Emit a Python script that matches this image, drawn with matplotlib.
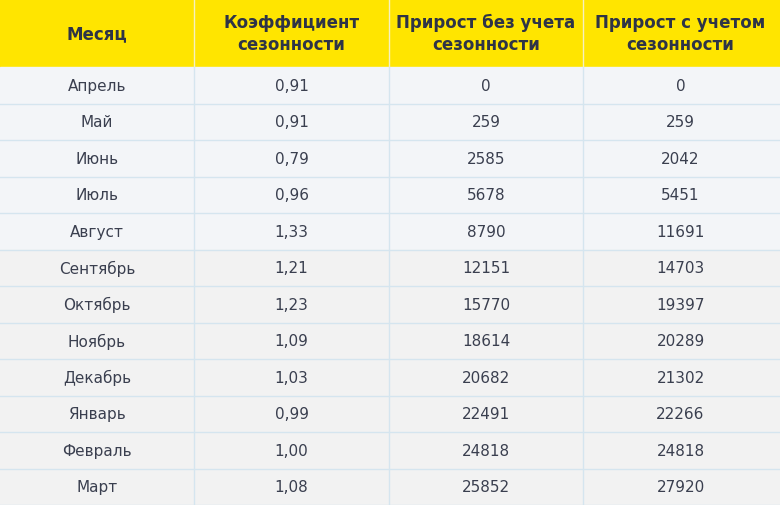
import matplotlib.pyplot as plt
from matplotlib.patches import Rectangle

headers = ["Месяц", "Коэффициент\nсезонности", "Прирост без учета\nсезонности", "Прирост с учетом\nсезонности"]
months = ["Апрель", "Май", "Июнь", "Июль", "Август", "Сентябрь", "Октябрь", "Ноябрь",
          "Декабрь", "Январь", "Февраль", "Март"]
coef = ["0,91", "0,91", "0,79", "0,96", "1,33", "1,21", "1,23", "1,09", "1,03", "0,99", "1,00", "1,08"]
raw_growth = [0, 259, 2585, 5678, 8790, 12151, 15770, 18614, 20682, 22491, 24818, 25852]
adj_growth = [0, 259, 2042, 5451, 11691, 14703, 19397, 20289, 21302, 22266, 24818, 27920]

W, H = 780, 506
fig = plt.figure(figsize=(W / 100, H / 100), dpi=100)
ax = fig.add_axes([0, 0, 1, 1])
ax.set_xlim(0, W)
ax.set_ylim(H, 0)
ax.axis("off")

col_x = [0, 194, 389, 583, 778]
head_h = 68
row_h = (H - head_h) / len(months)
text_col = "#3a3f4f"
line_col = "#d5e5ef"

ax.add_patch(Rectangle((0, 0), W, head_h, color="#ffe500", zorder=0))
for j, h in enumerate(headers):
    cx = (col_x[j] + col_x[j + 1]) / 2
    ax.text(cx, head_h / 2, h, ha="center", va="center", fontsize=12, fontweight="bold",
            color="#2e3447", linespacing=1.3, family="DejaVu Sans")
for x in col_x[1:-1]:
    ax.plot([x, x], [0, head_h], color="#f5f0c0", lw=1)

for i, m in enumerate(months):
    y0 = head_h + i * row_h
    bg = "#f3f5f8" if i < 5 else "#f2f2f2"
    ax.add_patch(Rectangle((0, y0), W, row_h, color=bg, zorder=0))
    ax.plot([0, W], [y0 + row_h, y0 + row_h], color=line_col, lw=1)
    vals = [m, coef[i], str(raw_growth[i]), str(adj_growth[i])]
    for j, v in enumerate(vals):
        cx = (col_x[j] + col_x[j + 1]) / 2
        ax.text(cx, y0 + row_h / 2, v, ha="center", va="center", fontsize=11, color=text_col)
for x in col_x[1:-1]:
    ax.plot([x, x], [head_h, H], color=line_col, lw=1)

fig.savefig("out.png", dpi=100)
